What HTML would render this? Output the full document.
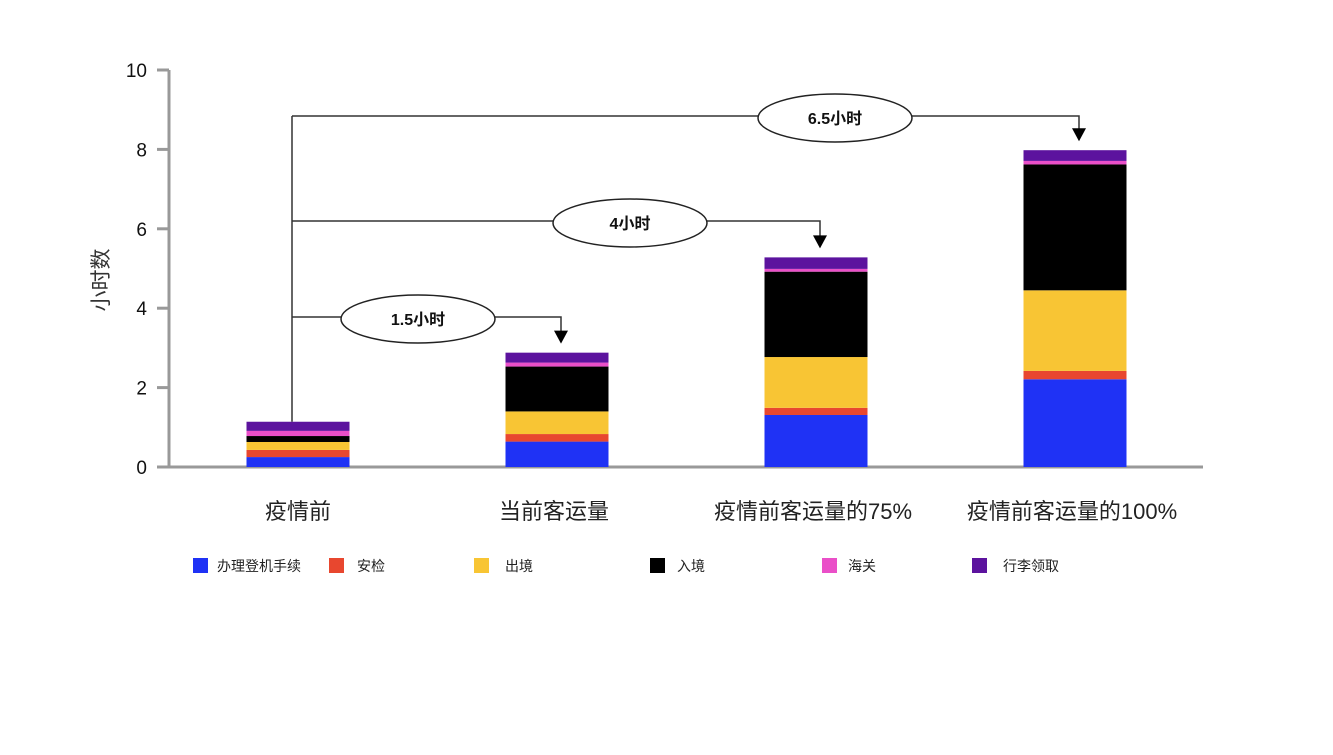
<!DOCTYPE html>
<html><head><meta charset="utf-8"><style>
body{margin:0;background:#fff;}
svg text{font-family:"Liberation Sans","Noto Sans CJK SC",sans-serif;}
</style></head><body>
<svg id="chart" width="1333" height="750" xmlns="http://www.w3.org/2000/svg">
<g id="axes"></g>
<g id="bars"></g>
<g id="ann"></g>
<g id="legend"></g>
<text transform="translate(108,280) rotate(-90)" text-anchor="middle" font-size="21" fill="#333">小时数</text>
</svg>
<script>
const categories=["疫情前","当前客运量","疫情前客运量的75%","疫情前客运量的100%"];
const seriesNames=["办理登机手续","安检","出境","入境","海关","行李领取"];
const checkin=[0.25,0.64,1.31,2.21];
const security=[0.18,0.19,0.18,0.21];
const emigration=[0.2,0.57,1.28,2.03];
const immigration=[0.15,1.13,2.15,3.17];
const customs=[0.13,0.1,0.07,0.09];
const baggage=[0.23,0.25,0.29,0.27];
const yTicks=[0,2,4,6,8,10];
const annLabels=["1.5小时","4小时","6.5小时"];
const colors=["#1f32f5","#e8472f","#f8c534","#000000","#ea4fc8","#5c139e"];
const series=[checkin,security,emigration,immigration,customs,baggage];
const NS="http://www.w3.org/2000/svg";
const y=v=>467-v*39.7;
const x=i=>298+i*259;
const bw=103;
function mk(tag,attrs,parent,txt){const e=document.createElementNS(NS,tag);for(const k in attrs)e.setAttribute(k,attrs[k]);if(txt!==undefined)e.textContent=txt;parent.appendChild(e);return e;}
const axes=document.getElementById('axes');
let e=mk('line',{x1:169,y1:y(10),x2:169,y2:468,stroke:'#999','stroke-width':3},axes);

e=mk('line',{x1:168,y1:467,x2:1203,y2:467,stroke:'#999','stroke-width':3},axes);

yTicks.forEach(t=>{
 e=mk('line',{x1:157,y1:y(t),x2:169,y2:y(t),stroke:'#999','stroke-width':3},axes);
 
 e=mk('text',{x:147,y:y(t)+7,'text-anchor':'end','font-size':19,fill:'#111'},axes,String(t));
 
});
categories.forEach((c,i)=>{
 e=mk('text',{x:x(i)-(i==0?0:3),y:519,'text-anchor':'middle','font-size':22,fill:'#222'},axes,c);
 
});
const bars=document.getElementById('bars');
const totals=[];
categories.forEach((c,i)=>{
 let cum=0;
 series.forEach((s,k)=>{
  const r=mk('rect',{x:x(i)-bw/2,y:y(cum+s[i]),width:bw,height:s[i]*39.7,fill:colors[k]},bars);
  
  
  cum+=s[i];
 });
 totals.push(cum);
});
// annotations
const ann=document.getElementById('ann');
const lineYs=[317,221,116];
e=mk('line',{x1:292,y1:lineYs[2],x2:292,y2:y(totals[0]),stroke:'#333','stroke-width':1.5},ann);

const ellX=[418,630,835];
for(let j=0;j<3;j++){
 const bi=j+1, ax=x(bi)+4, ly=lineYs[j], top=y(totals[bi])-9;
 e=mk('polyline',{points:`292,${ly} ${ax},${ly} ${ax},${top-12}`,fill:'none',stroke:'#333','stroke-width':1.5},ann);
 
 e=mk('polygon',{points:`${ax-7},${top-13} ${ax+7},${top-13} ${ax},${top}`,fill:'#000'},ann);
 
 e=mk('ellipse',{cx:ellX[j],cy:ly+2,rx:77,ry:24,fill:'#fff',stroke:'#222','stroke-width':1.5},ann);
 
 e=mk('text',{x:ellX[j],y:ly+8,'text-anchor':'middle','font-size':16,'font-weight':'bold',fill:'#111'},ann,annLabels[j]);
 
}
// legend
const leg=document.getElementById('legend');
const sqX=[193,329,474,650,822,972];
const txX=[217,357,505,677,848,1003];
seriesNames.forEach((n,k)=>{
 e=mk('rect',{x:sqX[k],y:558,width:15,height:15,fill:colors[k]},leg);
 
 e=mk('text',{x:txX[k],y:571,'font-size':14,fill:'#222'},leg,n);
 
});
</script>
</body></html>
